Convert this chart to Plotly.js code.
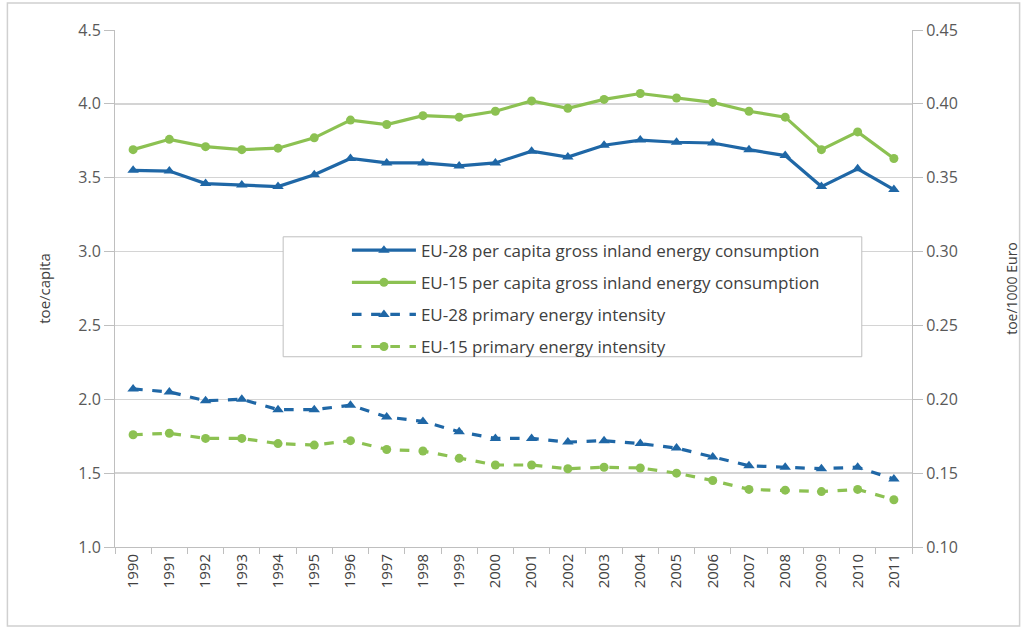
<!DOCTYPE html>
<html>
<head>
<meta charset="utf-8">
<script src="https://cdn.plot.ly/plotly-3.0.1.min.js"></script>
<style>html,body{margin:0;padding:0;background:#fff;}#chart{width:1024px;height:631px;}</style>
</head>
<body>
<div id="chart"></div>
<script>
const years = ["1990","1991","1992","1993","1994","1995","1996","1997","1998","1999","2000","2001","2002","2003","2004","2005","2006","2007","2008","2009","2010","2011"];
const eu28PerCapita = [3.55,3.545,3.46,3.45,3.44,3.52,3.63,3.60,3.60,3.58,3.60,3.68,3.64,3.72,3.755,3.74,3.735,3.69,3.65,3.44,3.56,3.42];
const eu15PerCapita = [3.69,3.76,3.71,3.69,3.70,3.77,3.89,3.86,3.92,3.91,3.95,4.02,3.97,4.03,4.07,4.04,4.01,3.95,3.91,3.69,3.81,3.63];
const eu28Intensity = [0.207,0.205,0.199,0.200,0.193,0.193,0.196,0.188,0.185,0.178,0.1735,0.1735,0.171,0.172,0.170,0.167,0.161,0.155,0.154,0.153,0.154,0.146];
const eu15Intensity = [0.176,0.177,0.1735,0.1735,0.170,0.169,0.172,0.166,0.165,0.160,0.1555,0.1555,0.153,0.154,0.1535,0.150,0.145,0.139,0.1385,0.1375,0.139,0.132];
const seriesNames = ["EU-28 per capita gross inland energy consumption","EU-15 per capita gross inland energy consumption","EU-28 primary energy intensity","EU-15 primary energy intensity"];

const blue = "#1f67a6", green = "#8cc152";
const traces = [
  {x: years, y: eu28PerCapita, name: seriesNames[0], legendgroup: "a", type: "scatter", mode: "lines+markers",
   line: {color: blue, width: 3.2}, marker: {symbol: "triangle-up", size: 10, color: blue}},
  {x: years, y: eu15PerCapita, name: seriesNames[1], legendgroup: "b", type: "scatter", mode: "lines+markers",
   line: {color: green, width: 3.2}, marker: {symbol: "circle", size: 9, color: green}},
  {x: years, y: eu28Intensity, name: seriesNames[2], legendgroup: "c", type: "scatter", mode: "lines+markers", yaxis: "y2",
   line: {color: blue, width: 3.2, dash: "dash"}, marker: {symbol: "triangle-up", size: 10, color: blue}},
  {x: years, y: eu15Intensity, name: seriesNames[3], legendgroup: "d", type: "scatter", mode: "lines+markers", yaxis: "y2",
   line: {color: green, width: 3.2, dash: "dash"}, marker: {symbol: "circle", size: 9, color: green}}
];

const fam = "'Open Sans', Lato, sans-serif";
const tickFont = {family: fam, size: 16, color: "#595959"};
const layout = {
  width: 1024, height: 631,
  margin: {l: 115, r: 112, t: 30, b: 84},
  paper_bgcolor: "#ffffff", plot_bgcolor: "#ffffff",
  font: {family: fam, color: "#404040"},
  showlegend: true,
  xaxis: {type: "category", range: [-0.5, 21.5], automargin: false, showline: true, linecolor: "#bfbfbf", linewidth: 1,
    ticks: "outside", tickson: "boundaries", ticklen: 6, tickcolor: "#bfbfbf",
    tickangle: -90, tickfont: {family: fam, size: 15, color: "#404040"},
    showgrid: false, zeroline: false},
  yaxis: {range: [1, 4.5], dtick: 0.5, tickformat: ".1f", automargin: false, showline: true, linecolor: "#bfbfbf",
    ticks: "outside", ticklen: 10, tickcolor: "#bfbfbf", gridcolor: "#d4d4d4", gridwidth: 1.5,
    tickfont: tickFont, zeroline: false,
    title: {text: "toe/capita", font: {family: fam, size: 15, color: "#404040"}, standoff: 24}},
  yaxis2: {overlaying: "y", side: "right", range: [0.10, 0.45], dtick: 0.05, tickformat: ".2f", automargin: false,
    showline: true, linecolor: "#bfbfbf", ticks: "outside", ticklen: 10, tickcolor: "#bfbfbf",
    showgrid: false, zeroline: false, tickfont: tickFont,
    title: {text: "toe/1000 Euro", font: {family: fam, size: 14, color: "#404040"}, standoff: 50}},
  legend: {x: 0.291, xanchor: "left", y: 0.608, yanchor: "top", bgcolor: "rgba(0,0,0,0)",
    borderwidth: 0, itemwidth: 64, tracegroupgap: 7,
    font: {family: fam, size: 17, color: "#404040"}},
  shapes: [
    {type: "rect", xref: "paper", yref: "paper", x0: 0.211, x1: 0.937, y0: 0.368, y1: 0.6,
     fillcolor: "#ffffff", line: {color: "#bfbfbf", width: 1}, layer: "above"},
    {type: "rect", xref: "paper", yref: "paper", x0: -0.135, x1: 1.135, y0: -0.153, y1: 1.052,
     fillcolor: "rgba(0,0,0,0)", line: {color: "#d0d0d0", width: 1.5}, layer: "below"}
  ]
};

Plotly.newPlot("chart", traces, layout, {displayModeBar: false, staticPlot: true});
</script>
</body>
</html>
